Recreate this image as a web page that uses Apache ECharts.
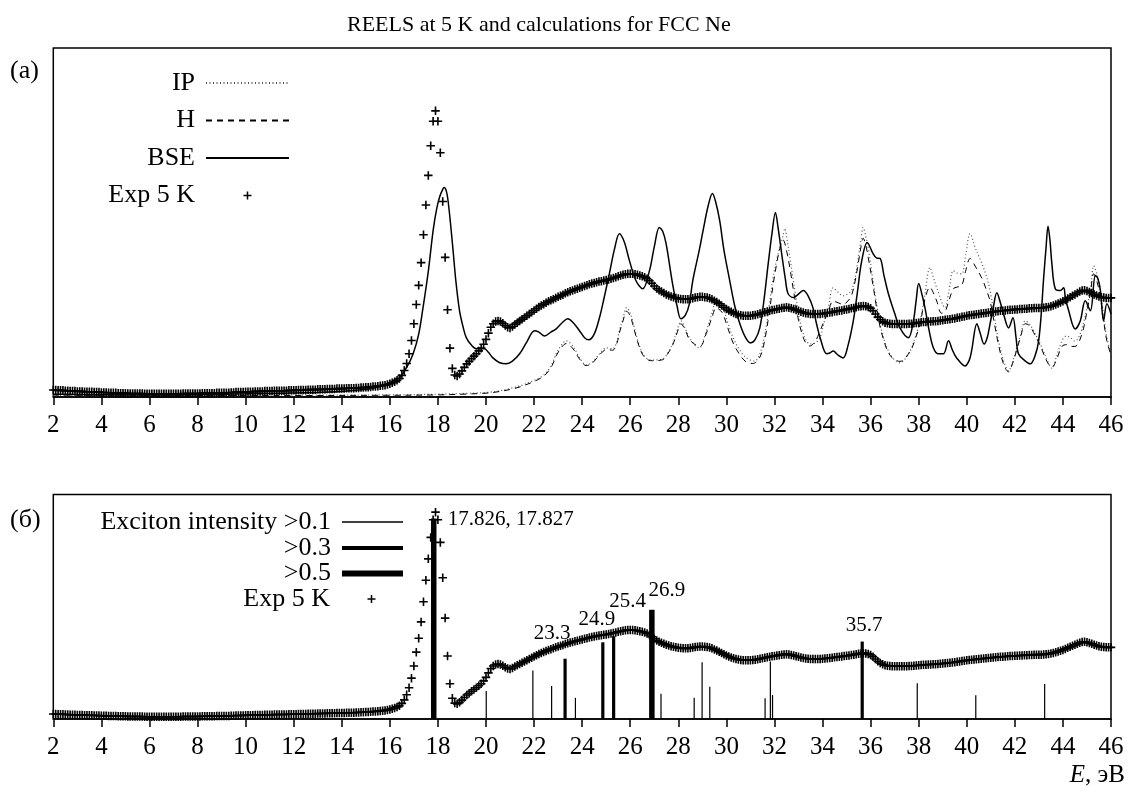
<!DOCTYPE html>
<html>
<head>
<meta charset="utf-8">
<title>REELS FCC Ne</title>
<script src="https://cdn.jsdelivr.net/npm/echarts@6/dist/echarts.min.js"></script>
<style>
    html, body { margin: 0; padding: 0; background: #fff; }
    #main { width: 1129px; height: 795px; }
</style>
</head>
<body>
<div id="main"></div>
<script>
// Exp 5 K: intensity read every 0.1 eV from 2.0 to 46.0 (same curve in both panels)
var expStart = 2.0;
var expStep = 0.1;
var expValues = [
    2.0, 2.0, 1.9, 1.9, 1.9, 1.8, 1.8, 1.7, 1.7, 1.7,          // 2.0
    1.6, 1.6, 1.6, 1.5, 1.5, 1.5, 1.5, 1.4, 1.4, 1.4,          // 3.0
    1.3, 1.3, 1.3, 1.2, 1.2, 1.2, 1.2, 1.1, 1.1, 1.1,          // 4.0
    1.1, 1.0, 1.0, 1.0, 1.0, 1.0, 1.0, 1.0, 0.9, 0.9,          // 5.0
    0.9, 0.9, 0.9, 0.9, 0.9, 0.9, 0.9, 0.9, 0.9, 0.9,          // 6.0
    0.9, 0.9, 0.9, 0.9, 1.0, 1.0, 1.0, 1.0, 1.0, 1.0,          // 7.0
    1.0, 1.0, 1.1, 1.1, 1.1, 1.1, 1.1, 1.1, 1.2, 1.2,          // 8.0
    1.2, 1.2, 1.2, 1.2, 1.3, 1.3, 1.4, 1.4, 1.4, 1.4,          // 9.0
    1.5, 1.5, 1.5, 1.5, 1.6, 1.6, 1.6, 1.6, 1.7, 1.7,          // 10.0
    1.7, 1.7, 1.8, 1.8, 1.8, 1.8, 1.8, 1.8, 1.9, 1.9,          // 11.0
    1.9, 1.9, 2.0, 2.0, 2.0, 2.0, 2.1, 2.1, 2.1, 2.1,          // 12.0
    2.2, 2.2, 2.2, 2.2, 2.3, 2.3, 2.3, 2.3, 2.4, 2.4,          // 13.0
    2.4, 2.4, 2.5, 2.5, 2.5, 2.5, 2.6, 2.6, 2.7, 2.7,          // 14.0
    2.8, 2.8, 2.9, 3.0, 3.0, 3.1, 3.2, 3.3, 3.4, 3.6,          // 15.0
    3.8, 4.1, 4.4, 4.8, 5.3, 6.2, 7.6, 9.6, 12.4, 16.2,        // 16.0
    21, 26.5, 32, 38.5, 46.5, 55, 63.5, 72, 79, 82,            // 17.0
    79, 70, 56, 40, 25, 14, 8.2, 6.3, 6.0, 6.6,                // 18.0
    7.5, 8.5, 9.5, 10.2, 11, 11.7, 12.4, 13.2, 14, 15.1,       // 19.0
    16.5, 18.3, 20, 21, 21.6, 21.8, 21.6, 21.1, 20.5, 20,      // 20.0
    19.8, 20.2, 20.8, 21.3, 21.8, 22.3, 22.8, 23.3, 23.8, 24.3, // 21.0
    24.8, 25.3, 25.8, 26.2, 26.6, 27, 27.4, 27.7, 28, 28.4,    // 22.0
    28.7, 29, 29.3, 29.7, 30, 30.3, 30.5, 30.8, 31, 31.3,      // 23.0
    31.5, 31.8, 32, 32.3, 32.5, 32.7, 32.9, 33.1, 33.2, 33.4,  // 24.0
    33.5, 33.7, 33.9, 34.1, 34.3, 34.6, 34.8, 35, 35.2, 35.3,  // 25.0
    35.3, 35.3, 35.2, 35, 34.8, 34.6, 34.3, 33.9, 33.3, 32.6,  // 26.0
    31.8, 31.1, 30.6, 30.2, 29.8, 29.4, 29.1, 28.8, 28.6, 28.4, // 27.0
    28.2, 28.1, 28, 28, 28, 28.1, 28.3, 28.5, 28.6, 28.7,      // 28.0
    28.7, 28.6, 28.5, 28.3, 28, 27.6, 27.2, 26.7, 26.2, 25.7,  // 29.0
    25.2, 24.8, 24.4, 24.1, 23.8, 23.6, 23.4, 23.3, 23.3, 23.3, // 30.0
    23.3, 23.4, 23.5, 23.7, 23.9, 24.1, 24.3, 24.5, 24.7, 24.9, // 31.0
    25.0, 25.2, 25.3, 25.5, 25.6, 25.7, 25.6, 25.4, 25.2, 24.9, // 32.0
    24.7, 24.4, 24.2, 24, 23.9, 23.8, 23.8, 23.8, 23.8, 23.8,  // 33.0
    23.9, 24, 24.1, 24.2, 24.3, 24.5, 24.6, 24.7, 24.8, 25,    // 34.0
    25.1, 25.2, 25.4, 25.5, 25.7, 25.9, 26, 26.1, 26, 25.8,    // 35.0
    25.4, 24.7, 23.8, 22.9, 22.2, 21.7, 21.3, 21.1, 21, 20.9,  // 36.0
    20.9, 20.9, 20.9, 20.9, 20.9, 20.9, 21, 21, 21.1, 21.2,    // 37.0
    21.3, 21.4, 21.5, 21.5, 21.6, 21.6, 21.7, 21.7, 21.8, 21.9, // 38.0
    22, 22.1, 22.2, 22.3, 22.4, 22.5, 22.7, 22.8, 23, 23.1,    // 39.0
    23.3, 23.4, 23.5, 23.6, 23.7, 23.8, 23.9, 24, 24.1, 24.2,  // 40.0
    24.3, 24.4, 24.5, 24.6, 24.7, 24.7, 24.8, 24.9, 25, 25,    // 41.0
    25.1, 25.1, 25.2, 25.2, 25.3, 25.3, 25.4, 25.4, 25.5, 25.5, // 42.0
    25.5, 25.5, 25.6, 25.7, 25.8, 26, 26.2, 26.5, 26.8, 27.1,  // 43.0
    27.4, 27.8, 28.2, 28.6, 29, 29.4, 29.8, 30.2, 30.5, 30.6,  // 44.0
    30.4, 30.1, 29.8, 29.4, 29.1, 28.8, 28.6, 28.5, 28.4, 28.4, // 45.0
    28.4                                                        // 46.0
];

// BSE calculation, [E, intensity]
var bsePoints = [
    [2, 0.8], [6, 0.6], [10, 0.9], [13, 1.3], [14, 1.6], [15, 2.2], [15.6, 3.0], [16.0, 4.0], [16.4, 5.5], [16.7, 8.5],
    [16.97, 12.4], [17.2, 18], [17.38, 25.6], [17.6, 36], [17.8, 47.7], [17.95, 54], [18.08, 57.5], [18.2, 59.5], [18.26, 60], [18.35, 59],
    [18.42, 56.3], [18.52, 50], [18.63, 42], [18.75, 33], [18.9, 24.7], [19.05, 20], [19.18, 17], [19.4, 14.8], [19.6, 13.8], [19.8, 13.8],
    [19.94, 13.8], [20.1, 12.8], [20.29, 11.2], [20.55, 9.9], [20.84, 9.5], [21.1, 10.3], [21.4, 12.4], [21.7, 15.8], [22.02, 19], [22.2, 18.6],
    [22.44, 17.5], [22.7, 18.6], [22.92, 19.5], [23.2, 21.5], [23.4, 22.4], [23.6, 21.5], [23.89, 19], [24.1, 17], [24.28, 16.4], [24.5, 18],
    [24.72, 22.7], [24.9, 28], [25.13, 35.3], [25.35, 42.5], [25.55, 46.8], [25.75, 44.5], [25.97, 39], [26.24, 33.3], [26.52, 31], [26.8, 36.2],
    [27.0, 43], [27.21, 48.6], [27.35, 47.5], [27.49, 44], [27.76, 32.5], [27.95, 26], [28.11, 22.4], [28.3, 23.5], [28.46, 26.7], [28.6, 33.3],
    [28.87, 42], [29.03, 47.7], [29.25, 55], [29.42, 58.3], [29.55, 56], [29.72, 50.6], [29.9, 42], [30.14, 33.3], [30.35, 26], [30.56, 21],
    [30.8, 17], [31.0, 15.5], [31.2, 16.5], [31.39, 19.8], [31.55, 27], [31.74, 38.2], [31.9, 47], [32.04, 52.9], [32.15, 48.5], [32.3, 41.1],
    [32.45, 34], [32.57, 29.6], [32.8, 28.5], [33.0, 29.5], [33.2, 30.5], [33.4, 29], [33.6, 25.6], [33.75, 21], [33.9, 17], [34.17, 12.4],
    [34.3, 12.6], [34.44, 13.2], [34.65, 12], [34.86, 11.2], [35.05, 14.5], [35.28, 21.8], [35.45, 30], [35.63, 39], [35.86, 44.3], [36.1, 41.1],
    [36.25, 39.8], [36.39, 39.7], [36.55, 35], [36.74, 29.6], [37.0, 24], [37.22, 19.8], [37.57, 17], [37.78, 21.8], [37.9, 28], [38.0, 32.5],
    [38.15, 29], [38.26, 25.6], [38.45, 18.5], [38.61, 14.1], [38.8, 12.4], [39.03, 12.4], [39.24, 16.1], [39.4, 13.5], [39.58, 11.2], [39.93, 8.9],
    [40.1, 10.5], [40.2, 13.2], [40.42, 21], [40.55, 18.5], [40.72, 15.2], [40.85, 17], [40.97, 21], [41.1, 25.5], [41.25, 29.9], [41.4, 27],
    [41.53, 23.8], [41.74, 19.8], [41.92, 22.7], [42.05, 17], [42.15, 12.4], [42.4, 10.5], [42.64, 9.5], [42.85, 12], [42.99, 16.1], [43.1, 24],
    [43.19, 33.3], [43.3, 43], [43.38, 48.9], [43.46, 45], [43.54, 38.2], [43.68, 31], [43.89, 30.5], [44.03, 31.3], [44.1, 28.5], [44.24, 24.7],
    [44.51, 19.5], [44.72, 21.8], [44.93, 27.6], [45.14, 24.7], [45.35, 34.8], [45.45, 34], [45.56, 30.5], [45.69, 21.8], [45.83, 26.7], [46.0, 23.8]
];

// IP calculation
var ipPoints = [
    [2, 0.4], [10, 0.5], [16, 0.6], [18, 0.8], [19, 1.0], [20, 1.3], [20.5, 1.7], [21.1, 2.6], [21.5, 3.4], [21.95, 4.6],
    [22.3, 5.8], [22.5, 6.9], [22.75, 9.5], [22.92, 12.4], [23.15, 15], [23.33, 16.1], [23.6, 14.7], [23.9, 11.2], [24.17, 9.2], [24.4, 9.8],
    [24.58, 11.2], [24.8, 13], [25.0, 14.1], [25.27, 13.8], [25.45, 16], [25.55, 19], [25.7, 22.5], [25.85, 25.6], [26.0, 24], [26.1, 21.8],
    [26.3, 16.5], [26.52, 12.4], [26.75, 10.8], [26.93, 10.6], [27.35, 10.9], [27.55, 12.5], [27.76, 15.2], [27.95, 19], [28.11, 21.8], [28.3, 19.5],
    [28.46, 17], [28.75, 14.5], [28.87, 14.1], [29.17, 19], [29.4, 24], [29.58, 27.6], [29.75, 26.5], [29.86, 25.6], [30.05, 21.5], [30.28, 17],
    [30.55, 13.5], [30.83, 11.2], [31.18, 10.3], [31.4, 12.5], [31.6, 18], [31.8, 27], [31.94, 34.2], [32.1, 39.5], [32.22, 42.8], [32.35, 46],
    [32.43, 48.3], [32.55, 44], [32.64, 40], [32.85, 30.5], [33.0, 24], [33.13, 19.8], [33.3, 16.5], [33.47, 15.2], [33.7, 15.5], [33.89, 17],
    [34.05, 21], [34.24, 25.6], [34.44, 31.3], [34.65, 30], [34.86, 29], [35.05, 29.5], [35.2, 30.5], [35.35, 34], [35.49, 40], [35.6, 45],
    [35.69, 48.6], [35.8, 46], [35.9, 42.8], [36.1, 33.3], [36.3, 24.5], [36.46, 19], [36.8, 12.4], [37.22, 9.8], [37.64, 13.2], [37.85, 17],
    [38.06, 21.8], [38.25, 29], [38.47, 37.1], [38.6, 34.5], [38.75, 31.3], [39.1, 25.6], [39.25, 30], [39.44, 36.2], [39.6, 35.5], [39.79, 35.3],
    [39.95, 40.5], [40.14, 46.8], [40.35, 42.8], [40.63, 38.2], [40.8, 35], [40.97, 30.5], [41.15, 23], [41.32, 16.1], [41.55, 10], [41.74, 7.5],
    [41.9, 10], [42.08, 14.1], [42.25, 18], [42.43, 21.8], [42.6, 21], [42.78, 19], [43.0, 16], [43.13, 14.1], [43.35, 10.5], [43.54, 8.3],
    [43.75, 12], [43.96, 16.1], [44.15, 17.5], [44.31, 17], [44.5, 16], [44.65, 17], [44.85, 21], [45.0, 25.6], [45.15, 31], [45.28, 37.6],
    [45.42, 35], [45.56, 30.5], [45.7, 23], [45.83, 17], [46.0, 12.4]
];

// H calculation
var hPoints = [
    [2, 0.3], [10, 0.4], [16, 0.5], [18, 0.6], [19, 0.8], [20, 1.1], [20.5, 1.5], [21.1, 2.3], [21.5, 3.1], [21.95, 4.3],
    [22.3, 5.5], [22.5, 6.6], [22.75, 9.0], [22.92, 11.8], [23.15, 14.3], [23.33, 15.3], [23.6, 14], [23.9, 10.8], [24.17, 9.0], [24.4, 9.6],
    [24.58, 10.9], [24.8, 12.6], [25.0, 13.6], [25.27, 13.4], [25.45, 15.5], [25.55, 18.4], [25.7, 21.8], [25.85, 24.6], [26.0, 23.2], [26.1, 21],
    [26.3, 16], [26.52, 12.1], [26.75, 10.6], [26.93, 10.4], [27.35, 10.7], [27.55, 12.3], [27.76, 14.8], [27.95, 18.4], [28.11, 21], [28.3, 19],
    [28.46, 16.5], [28.75, 14.8], [28.9, 14.5], [29.17, 18.3], [29.4, 22.8], [29.58, 25.6], [29.75, 24.8], [29.86, 23.8], [30.05, 20], [30.28, 15.5],
    [30.55, 12.2], [30.83, 10], [31.1, 9.6], [31.4, 11.5], [31.6, 16.5], [31.8, 25], [31.94, 32], [32.1, 38.5], [32.22, 42.5], [32.36, 45],
    [32.5, 42], [32.64, 37], [32.85, 28], [33.0, 22], [33.13, 18.5], [33.3, 15.5], [33.47, 14.6], [33.7, 16], [33.9, 19], [34.05, 21.5],
    [34.24, 24.5], [34.44, 27.5], [34.65, 27], [34.86, 26.5], [35.05, 27.5], [35.2, 29], [35.35, 33], [35.49, 38.5], [35.6, 43], [35.69, 45.5],
    [35.8, 43.5], [35.9, 40], [36.1, 32], [36.3, 23.5], [36.46, 18.3], [36.8, 12], [37.22, 10.2], [37.64, 13], [37.85, 16.5], [38.06, 21],
    [38.26, 28], [38.47, 31.5], [38.6, 30], [38.75, 27.5], [38.95, 24], [39.1, 24.5], [39.25, 27.5], [39.44, 31], [39.6, 31.5], [39.79, 32],
    [39.95, 36], [40.14, 39.7], [40.35, 37.5], [40.63, 34], [40.8, 31], [40.97, 27.5], [41.15, 21], [41.32, 15], [41.55, 9], [41.74, 7.2],
    [41.9, 9.5], [42.08, 13.5], [42.25, 17.5], [42.43, 21], [42.6, 20.5], [42.78, 18.5], [43.0, 15.5], [43.13, 13.5], [43.35, 10], [43.54, 8.5],
    [43.75, 11], [43.96, 14.5], [44.15, 15], [44.31, 14.5], [44.5, 14.5], [44.65, 15.5], [44.85, 19.5], [45.0, 24.5], [45.15, 30], [45.28, 35.3],
    [45.42, 33], [45.56, 28.5], [45.7, 21.5], [45.83, 16], [46.0, 12]
];

// exciton sticks (bottom panel), [E, height]
var excitonWeak = [
    [20.01, 11.1], [21.95, 19.2], [22.73, 13.1], [23.72, 8.4], [27.28, 10.0], [28.66, 8.4], [28.99, 22.5],
    [29.31, 12.8], [31.61, 8.2], [31.83, 22.8], [31.92, 9.5], [37.94, 14.2], [40.375, 9.4], [43.24, 13.9]
];
var excitonMid = [[23.29, 23.9], [24.86, 30.4], [25.31, 32.8], [35.65, 30.7]];
var excitonStrong = [[17.826, 79.5], [26.9, 43.3]];
// stick energy -> label text
var excitonLabels = [
    [17.826, '17.826, 17.827'], [23.29, '23.3'], [24.86, '24.9'], [25.31, '25.4'], [26.9, '26.9'], [35.65, '35.7']
];
var xTicks = { min: 2, max: 46, step: 2 };

var FONT = 'Liberation Serif';
var PLUS = 'path://M4.05,0H5.95V4.05H10V5.95H5.95V10H4.05V5.95H0V4.05H4.05Z';

// label offsets, px (position 'top')
var labelOffsets = {
    '17.826, 17.827': [77, 17],
    '23.3': [-13, -10],
    '24.9': [-6, -7],
    '25.4': [14, -19],
    '26.9': [15, -4],
    '35.7': [2, -1]
};

var expPoints = expValues.map(function(v, i) {
    return [+(expStart + i * expStep).toFixed(1), v];
});

function findLabel(e) {
    for (var i = 0; i < excitonLabels.length; i++) {
        if (excitonLabels[i][0] === e) return excitonLabels[i][1];
    }
    return null;
}

function stickData(list) {
    return list.map(function(p) {
        var txt = findLabel(p[0]);
        if (!txt) return { value: p };
        return {
            value: p,
            label: {
                show: true,
                position: 'top',
                formatter: txt,
                offset: labelOffsets[txt],
                fontFamily: FONT,
                fontSize: 21,
                color: '#000'
            }
        };
    });
}

function xAxisCfg(grid, show) {
    return {
        type: 'value',
        gridIndex: grid,
        min: xTicks.min,
        max: xTicks.max,
        interval: xTicks.step,
        show: show,
        axisLine: { show: true, lineStyle: { color: '#000', width: 1.5 } },
        axisTick: { show: true, length: 8, lineStyle: { color: '#000', width: 1.5 } },
        axisLabel: { fontFamily: FONT, fontSize: 25, color: '#000', margin: 16 },
        splitLine: { show: false }
    };
}

function legendRow(name, right, top, w, h, icon, hideSymbol) {
    var item = { name: name };
    if (icon) item.icon = icon;
    var lg = {
        data: [item],
        orient: 'vertical',
        align: 'right',
        right: right,
        top: top,
        padding: 0,
        itemWidth: w,
        itemHeight: h,
        selectedMode: false,
        textStyle: { fontFamily: FONT, fontSize: 26, lineHeight: 26, color: '#000', padding: [0, 6, 0, 0] }
    };
    if (hideSymbol) lg.itemStyle = { opacity: 0 }; // 只显示线
    return lg;
}

var mychart = echarts.init(document.getElementById('main'));

var option = {
    animation: false,
    backgroundColor: '#fff',
    title: [{
        text: 'REELS at 5 K and calculations for FCC Ne',
        left: 347,
        top: 14,
        padding: 0,
        textStyle: { fontFamily: FONT, fontSize: 22, lineHeight: 22, fontWeight: 'normal', color: '#000' }
    }, {
        text: '(a)',
        left: 10,
        top: 58,
        padding: 0,
        textStyle: { fontFamily: FONT, fontSize: 26, lineHeight: 26, fontWeight: 'normal', color: '#000' }
    }, {
        text: '(б)',
        left: 10,
        top: 507,
        padding: 0,
        textStyle: { fontFamily: FONT, fontSize: 26, lineHeight: 26, fontWeight: 'normal', color: '#000' }
    }],
    legend: [
        legendRow('IP', 839, 70, 83, 10, null, true),
        legendRow('H', 839, 107.5, 83, 10, null, true),
        legendRow('BSE', 839, 145, 83, 10, null, true),
        legendRow('Exp 5 K', 839, 182.5, 83, 10),
        legendRow('Exciton intensity >0.1', 726, 509, 61, 1.3, 'rect'),
        legendRow('>0.3', 726, 535, 61, 4, 'rect'),
        legendRow('>0.5', 726, 560.5, 61, 6, 'rect'),
        legendRow('Exp 5 K', 726, 586, 61, 10)
    ],
    grid: [{
        left: 53.3, right: 18, top: 48, bottom: 398,
        show: true, borderColor: '#000', borderWidth: 1.5
    }, {
        left: 53.3, right: 18, top: 494.5, bottom: 76,
        show: true, borderColor: '#000', borderWidth: 1.5
    }],
    xAxis: [
        xAxisCfg(0, true),
        Object.assign(xAxisCfg(1, true), {
            name: '{i|E}, эВ',
            nameLocation: 'end',
            nameGap: 14,
            nameTextStyle: {
                fontFamily: FONT, fontSize: 25, color: '#000',
                align: 'right', verticalAlign: 'top', padding: [44, 0, 0, 0],
                rich: { i: { fontFamily: FONT, fontSize: 25, fontStyle: 'italic', color: '#000' } }
            }
        }),
        xAxisCfg(1, false),
        xAxisCfg(1, false)
    ],
    yAxis: [
        { type: 'value', gridIndex: 0, min: 0, max: 100, show: false },
        { type: 'value', gridIndex: 1, min: 0, max: 89, show: false }
    ],
    series: [{
        name: 'IP',
        type: 'line',
        xAxisIndex: 0, yAxisIndex: 0,
        data: ipPoints,
        symbol: 'none',
        smooth: 0.35,
        lineStyle: { color: '#555', width: 1.2, type: [1, 2.5] }
    }, {
        name: 'H',
        type: 'line',
        xAxisIndex: 0, yAxisIndex: 0,
        data: hPoints,
        symbol: 'none',
        smooth: 0.35,
        lineStyle: { color: '#000', width: 1, type: [6, 5] }
    }, {
        name: 'BSE',
        type: 'line',
        xAxisIndex: 0, yAxisIndex: 0,
        data: bsePoints,
        symbol: 'none',
        smooth: 0.35,
        lineStyle: { color: '#000', width: 1.5 }
    }, {
        name: 'Exp 5 K',
        type: 'line',
        xAxisIndex: 0, yAxisIndex: 0,
        data: expPoints,
        symbol: PLUS,
        symbolSize: 8.5,
        showSymbol: true,
        clip: false,
        itemStyle: { color: '#000' },
        lineStyle: { opacity: 0 }
    }, {
        name: 'Exp 5 K',
        type: 'line',
        xAxisIndex: 1, yAxisIndex: 1,
        data: expPoints,
        symbol: PLUS,
        symbolSize: 8.5,
        showSymbol: true,
        clip: false,
        itemStyle: { color: '#000' },
        lineStyle: { opacity: 0 }
    }, {
        name: 'Exciton intensity >0.1',
        type: 'bar',
        xAxisIndex: 1, yAxisIndex: 1,
        barWidth: 1.2,
        itemStyle: { color: '#000' },
        data: stickData(excitonWeak)
    }, {
        name: '>0.3',
        type: 'bar',
        xAxisIndex: 2, yAxisIndex: 1,
        barWidth: 3.2,
        itemStyle: { color: '#000' },
        data: stickData(excitonMid)
    }, {
        name: '>0.5',
        type: 'bar',
        xAxisIndex: 3, yAxisIndex: 1,
        barWidth: 5.5,
        itemStyle: { color: '#000' },
        data: stickData(excitonStrong)
    }]
};

mychart.setOption(option);
</script>
</body>
</html>
